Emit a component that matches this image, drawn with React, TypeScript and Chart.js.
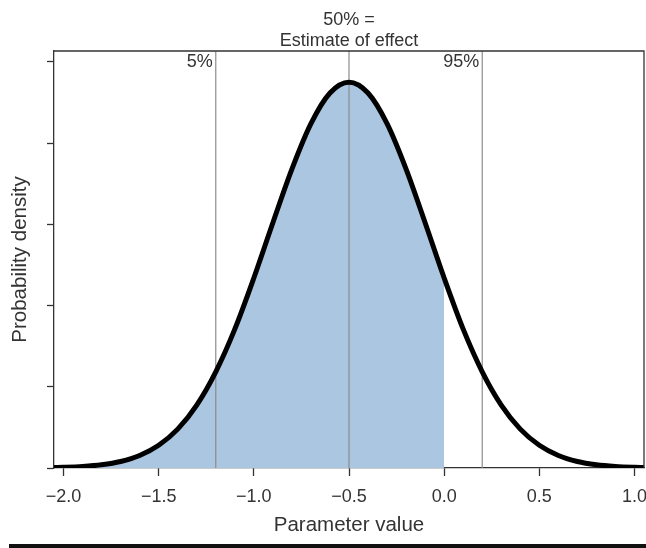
import React, { useEffect, useRef } from "react";
import { Chart, registerables } from "chart.js";

Chart.register(...registerables);

// Parameter values (x) and probability density
const paramValues = [
  -2.05, -2.0, -1.9, -1.8, -1.7, -1.6, -1.5, -1.4, -1.3, -1.2, -1.1, -1.0,
  -0.9, -0.8, -0.7, -0.6, -0.5, -0.4, -0.3, -0.2, -0.1, 0.0, 0.1, 0.2, 0.3,
  0.4, 0.5, 0.6, 0.7, 0.8, 0.9, 1.0, 1.05,
];
const densityValues = [
  0.001, 0.0016, 0.0037, 0.0079, 0.016, 0.0308, 0.0559, 0.0957, 0.155, 0.237,
  0.342, 0.468, 0.604, 0.736, 0.848, 0.9235, 0.95, 0.9235, 0.848, 0.736, 0.604,
  0.468, 0.342, 0.237, 0.155, 0.0957, 0.0559, 0.0308, 0.016, 0.0079, 0.0037,
  0.0016, 0.001,
];
// Shaded area runs up to this parameter value
const shadeUpTo = 0.0;

// Percentile markers
const percentileValues = [-1.2, -0.5, 0.2];
const percentileLabels = ["5%", "50% =\nEstimate of effect", "95%"];

// Axis ticks
const xTicks = [-2.0, -1.5, -1.0, -0.5, 0.0, 0.5, 1.0];
const yTicks = [0, 0.2, 0.4, 0.6, 0.8, 1.0];

const X_MIN = -2.05;
const X_MAX = 1.05;
const Y_MAX = 1.027;

const FONT = "'Liberation Sans', Arial, Helvetica, sans-serif";
const TEXT = "#333333";

export default function App() {
  const canvasRef = useRef<HTMLCanvasElement | null>(null);

  useEffect(() => {
    if (!canvasRef.current) return;
    const curve = paramValues.map((x, i) => ({ x, y: densityValues[i] }));
    const shaded = curve.filter((p) => p.x <= shadeUpTo + 1e-9);

    const markerSets = percentileValues.map((v) => ({
      type: "line" as const,
      data: [
        { x: v, y: 0 },
        { x: v, y: Y_MAX },
      ],
      borderColor: "#8c8c8c",
      borderWidth: 1.2,
      pointRadius: 0,
      tension: 0,
      fill: false,
      order: 1,
    }));

    const labelPlugin = {
      id: "labels",
      afterDraw(chart: any) {
        const { ctx, chartArea } = chart;
        const xs = chart.scales.x;
        ctx.save();
        // box border (top + right)
        ctx.strokeStyle = "#333333";
        ctx.lineWidth = 1.3;
        ctx.beginPath();
        ctx.moveTo(chartArea.left, chartArea.top);
        ctx.lineTo(chartArea.right, chartArea.top);
        ctx.lineTo(chartArea.right, chartArea.bottom);
        ctx.stroke();

        ctx.fillStyle = TEXT;
        ctx.font = `18px ${FONT}`;
        percentileValues.forEach((v, i) => {
          const px = xs.getPixelForValue(v);
          const lines = percentileLabels[i].split("\n");
          if (lines.length > 1) {
            ctx.textAlign = "center";
            ctx.textBaseline = "middle";
            ctx.fillText(lines[0], px, 20);
            ctx.fillText(lines[1], px, 41);
          } else {
            ctx.textAlign = "right";
            ctx.textBaseline = "middle";
            ctx.fillText(lines[0], px - 3, chartArea.top + 11);
          }
        });
        ctx.restore();
      },
    };

    const chart = new Chart(canvasRef.current, {
      type: "line",
      data: {
        datasets: [
          {
            data: curve,
            borderColor: "#000000",
            borderWidth: 5,
            pointRadius: 0,
            cubicInterpolationMode: "monotone",
            fill: false,
            order: 0,
          },
          ...markerSets,
          {
            data: shaded,
            borderWidth: 0,
            borderColor: "rgba(0,0,0,0)",
            backgroundColor: "#abc6e0",
            pointRadius: 0,
            cubicInterpolationMode: "monotone",
            fill: "origin",
            order: 2,
          },
        ] as any,
      },
      plugins: [labelPlugin],
      options: {
        animation: false,
        responsive: true,
        maintainAspectRatio: false,
        layout: { padding: { top: 51, right: 2, left: 0, bottom: 0 } },
        plugins: {
          legend: { display: false },
          tooltip: { enabled: false },
        },
        scales: {
          x: {
            type: "linear",
            min: X_MIN,
            max: X_MAX,
            afterBuildTicks: (s: any) => {
              s.ticks = xTicks.map((v) => ({ value: v }));
            },
            afterFit: (s: any) => {
              s.height = 80;
              s.paddingLeft = 0;
              s.paddingRight = 0;
            },
            ticks: {
              color: TEXT,
              font: { family: FONT, size: 18 },
              padding: 10,
              maxRotation: 0,
              callback: (v: any) => Number(v).toFixed(1).replace("-", "\u2212"),
            },
            grid: {
              drawOnChartArea: false,
              tickLength: 8,
              tickColor: "#333333",
              tickWidth: 1.3,
            },
            border: { color: "#333333", width: 1.3 },
            title: {
              display: true,
              text: "Parameter value",
              color: TEXT,
              font: { family: FONT, size: 20.5 },
              padding: { top: 0, bottom: 10 },
            },
          },
          y: {
            type: "linear",
            min: 0,
            max: Y_MAX,
            afterBuildTicks: (s: any) => {
              s.ticks = yTicks.map((v) => ({ value: v }));
            },
            afterFit: (s: any) => {
              s.width = 54;
              s.paddingTop = 0;
              s.paddingBottom = 0;
            },
            ticks: { display: false },
            grid: {
              drawOnChartArea: false,
              tickLength: 7,
              tickColor: "#333333",
              tickWidth: 1.3,
            },
            border: { color: "#333333", width: 1.3 },
            title: {
              display: true,
              text: "Probability density",
              color: TEXT,
              font: { family: FONT, size: 20.5 },
              padding: { top: 8, bottom: 0 },
            },
          },
        },
      },
    });
    return () => chart.destroy();
  }, []);

  return (
    <div
      style={{
        position: "absolute",
        left: 0,
        top: 0,
        width: 646,
        height: 548,
        background: "#ffffff",
      }}
    >
      <canvas ref={canvasRef} />
      <div
        style={{
          position: "absolute",
          left: 9,
          top: 544,
          width: 637,
          height: 4,
          background: "#111111",
        }}
      />
    </div>
  );
}
